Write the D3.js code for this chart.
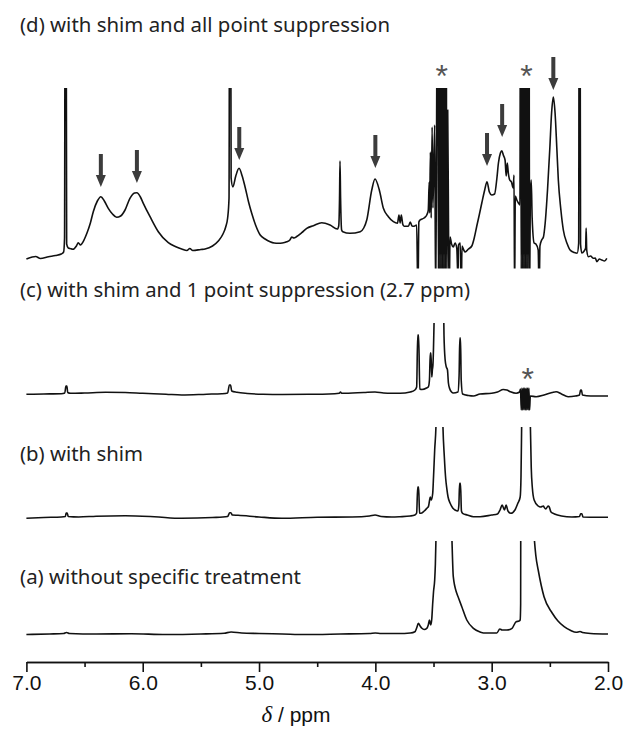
<!DOCTYPE html>
<html>
<head>
<meta charset="utf-8">
<script src="https://cdn.jsdelivr.net/npm/d3@7"></script>
<style>
  body { margin: 0; background: #fff; }
  svg { display: block; }
</style>
</head>
<body>
<div id="chart"></div>
<script>
// Spectra: [ppm, intensity] (intensity in arbitrary units above baseline)
var traceD = [
  [7.00,-1],[6.95,1],[6.92,1.5],[6.88,-0.5],[6.81,1.3],[6.75,2.5],[6.70,4],[6.68,6],[6.672,20],[6.666,400],[6.660,400],[6.654,14],
  [6.64,10],[6.625,9.5],[6.60,8.7],[6.57,12],[6.554,15.3],[6.535,13],[6.525,14],[6.48,24.7],[6.45,35],[6.425,46.3],[6.39,57],
  [6.36,61.3],[6.33,57],[6.296,49.7],[6.26,44],[6.224,40.7],[6.19,42],[6.152,48],[6.11,59.7],[6.07,65],[6.05,65.3],[6.02,61],
  [5.995,54.7],[5.937,41.3],[5.866,26.3],[5.78,15.3],[5.72,11.5],[5.665,9],[5.62,7.5],[5.595,9.5],[5.57,7.5],[5.50,8.5],[5.464,9],
  [5.40,12],[5.35,17],[5.31,24],[5.286,31.3],[5.27,40],[5.258,60],[5.252,400],[5.246,400],[5.24,80],[5.225,71],[5.20,82],
  [5.172,89.7],[5.145,82],[5.12,71],[5.09,56],[5.063,44.7],[5.03,33],[4.99,23],[4.948,19],[4.905,16.3],[4.87,15],[4.834,14.7],
  [4.80,15],[4.762,16.3],[4.735,18],[4.719,21],[4.70,20],[4.676,21.5],[4.633,25.3],[4.59,29.7],[4.533,32.3],[4.461,35.3],
  [4.39,33],[4.327,29],[4.315,32],[4.308,60],[4.304,97],[4.299,60],[4.29,28],[4.28,26.3],[4.218,24.7],[4.13,26.3],[4.10,30],
  [4.074,38],[4.031,68],[4.003,79],[3.966,68],[3.931,49.7],[3.888,41.3],[3.845,36.3],[3.81,34.7],[3.797,43],[3.787,35],
  [3.777,43],[3.765,34],[3.753,31.7],[3.716,31.7],[3.70,36],[3.685,32],[3.667,31.7],[3.645,33],[3.634,-40],[3.626,36],
  [3.616,38],[3.581,40],[3.558,43],[3.545,48],[3.537,76],[3.533,45],[3.527,106],[3.52,40],[3.512,131],[3.505,50],[3.49,133],
  [3.482,-40],[3.476,60],
  [3.464,400],[3.458,-40],[3.452,400],[3.446,-40],[3.440,400],[3.434,-40],[3.428,400],[3.422,-40],[3.416,400],[3.410,-40],
  [3.404,400],[3.398,-40],[3.392,400],[3.386,-40],
  [3.378,148],[3.371,30],[3.365,-40],[3.358,21],[3.345,14],[3.33,11],[3.315,15],[3.30,10],[3.29,-20],[3.285,13],[3.27,15],
  [3.262,-40],[3.255,12],[3.24,8],[3.228,6],[3.20,9],[3.171,12],[3.15,20],[3.128,32],[3.105,44],[3.085,55],[3.06,68],
  [3.04,76.3],[3.02,66],[3.00,63],[2.975,64],[2.955,80],[2.942,95],[2.925,105],[2.913,107.3],[2.90,103],[2.885,98],[2.875,82],
  [2.866,95],[2.857,85],[2.845,78],[2.83,76],[2.815,70],[2.808,83],[2.803,-40],[2.797,62],[2.784,58],[2.77,55],[2.757,53],
  [2.752,400],[2.746,-40],[2.740,400],[2.734,-40],[2.728,400],[2.722,-40],[2.716,400],[2.710,-40],[2.704,400],[2.698,-40],
  [2.692,400],[2.686,-40],[2.680,400],[2.674,-40],
  [2.668,60],[2.66,78],[2.652,40],[2.635,15],[2.62,14],[2.60,8],[2.592,-40],[2.585,12],[2.57,18],[2.555,21],[2.54,35],
  [2.52,68],[2.50,110],[2.485,145],[2.47,161],[2.455,145],[2.44,110],[2.427,78],[2.405,48],[2.384,28],[2.35,14],[2.326,8],
  [2.29,5.5],[2.265,4.7],[2.252,15],[2.247,400],[2.242,400],[2.236,14],[2.225,5],[2.205,7],[2.192,10],[2.188,30],[2.183,8],
  [2.168,1.3],[2.15,2],[2.125,-0.3],[2.11,0],[2.096,-3.7],[2.075,-1],[2.053,-2],[2.03,-3],[2.01,-0.3]
];

var traceC = [
  [7.00,0.7],[6.85,1],[6.70,1.3],[6.67,2],[6.66,9],[6.652,9],[6.645,2.5],[6.62,1.7],[6.50,2],[6.32,2.7],[6.15,2.5],[6.0,1.7],
  [5.8,0.8],[5.665,0],[5.45,0.8],[5.32,1.3],[5.27,2],[5.255,10],[5.245,10],[5.235,4],[5.19,2.7],[5.10,1.5],[4.966,0.7],
  [4.8,0.5],[4.576,0.7],[4.40,1],[4.31,1.7],[4.30,3],[4.29,1.7],[4.10,2.5],[4.003,3],[3.93,2],[3.86,1.7],[3.788,1.7],
  [3.70,3],[3.66,5],[3.645,8],[3.636,60],[3.628,60],[3.618,6],[3.60,5.5],[3.56,7],[3.544,8.3],[3.535,15],[3.528,42],
  [3.522,42],[3.515,18],[3.51,25],[3.505,30],[3.495,75],[3.485,150],[3.45,400],[3.42,150],[3.41,60],[3.40,35],[3.39,28],
  [3.38,25],[3.372,12],[3.36,6],[3.345,3],[3.33,2],[3.29,3],[3.28,20],[3.274,57],[3.268,57],[3.262,15],[3.25,1],[3.20,-0.5],
  [3.157,-1],[3.10,1],[3.0,1.7],[2.95,3],[2.90,5.5],[2.87,5],[2.84,3.3],[2.79,1.7],[2.76,3],[2.752,6],
  [2.746,-15],[2.740,7],[2.734,-15],[2.728,7],[2.722,-15],[2.716,7],[2.710,-15],[2.704,7],[2.698,-15],[2.692,7],[2.686,-15],
  [2.680,7],[2.674,-15],
  [2.668,-1],[2.618,-1.7],[2.55,0],[2.48,2.5],[2.446,3.3],[2.40,1],[2.343,-1.7],[2.28,-1],[2.245,0],[2.236,5],[2.228,5],
  [2.22,0],[2.15,-1],[2.0,-1]
];

var traceB = [
  [7.0,-1.3],[6.85,-0.5],[6.70,0],[6.665,0.5],[6.658,4],[6.65,4],[6.64,0.5],[6.55,0],[6.40,0.8],[6.15,1.3],[5.90,0.3],
  [5.665,-1.3],[5.40,-0.5],[5.27,0.5],[5.252,4.3],[5.242,4.3],[5.23,2],[5.18,1.7],[5.0,0],[4.805,-1.3],[4.5,-0.3],[4.2,0],
  [4.05,1],[4.003,2],[3.95,0.5],[3.86,0],[3.788,0.3],[3.70,1],[3.66,2],[3.645,4],[3.636,30],[3.628,30],[3.62,4],[3.61,3.7],
  [3.58,6],[3.555,9],[3.544,10.3],[3.535,16],[3.528,20],[3.52,17],[3.507,23.7],[3.50,40],[3.49,67],[3.478,95],[3.45,400],
  [3.42,95],[3.407,60],[3.395,38],[3.386,28.7],[3.375,20],[3.357,13.7],[3.335,9],[3.315,7],[3.29,6],[3.282,12],[3.276,33.7],
  [3.268,33.7],[3.26,6],[3.25,3.7],[3.21,2],[3.157,0.3],[3.10,0.3],[3.0,2],[2.95,3],[2.928,7],[2.91,12],[2.89,7],[2.876,12],
  [2.86,6],[2.835,3.7],[2.80,7],[2.775,13.7],[2.755,20],[2.748,40],[2.742,95],[2.70,400],[2.668,95],[2.66,50],[2.65,28.7],
  [2.635,17],[2.60,11],[2.58,10],[2.555,11],[2.55,10],[2.535,8],[2.515,11],[2.505,10],[2.49,5],[2.46,3],[2.40,1],[2.31,0],
  [2.245,0.5],[2.235,3.3],[2.225,3.3],[2.215,0],[2.1,-0.3],[2.0,-0.3]
];

var traceA = [
  [7.0,-0.5],[6.80,0],[6.68,0.5],[6.655,1.5],[6.63,0.5],[6.4,0],[6.1,0.3],[5.8,-0.5],[5.5,0],[5.3,0.8],[5.24,2],[5.15,1],
  [5.0,0.5],[4.8,0],[4.6,-0.5],[4.3,0],[4.05,0.5],[4.0,1],[3.95,0.5],[3.80,0.5],[3.70,1],[3.66,2.3],[3.645,6],[3.63,10.7],
  [3.615,8],[3.60,5.7],[3.58,4.5],[3.558,5.7],[3.545,9],[3.535,14],[3.524,9],[3.515,15],[3.507,30.7],[3.50,42.3],[3.49,54],
  [3.484,70],[3.478,100],[3.46,300],[3.40,400],[3.343,100],[3.33,57.3],[3.30,40.7],[3.285,36],[3.257,27.3],[3.214,14],
  [3.157,5.7],[3.10,2],[3.07,1],[2.99,1],[2.956,1],[2.93,5],[2.91,4],[2.87,4],[2.825,5.7],[2.79,12.3],[2.765,13],[2.755,14],
  [2.751,30],[2.748,300],[2.70,400],[2.636,100],[2.62,78],[2.60,64],[2.55,37.3],[2.48,21],[2.43,13],[2.377,7.3],[2.32,3.5],
  [2.274,1.7],[2.24,2.5],[2.22,1.5],[2.15,0.5],[2.0,0]
];

// annotations on trace (d)
var arrowPpm = [6.36, 6.05, 5.17, 4.00, 3.04, 2.91, 2.47];
var arrowTip = [71, 75, 98, 90, 92, 121, 168];
var starPpmD = [3.43, 2.70];
var starPpmC = [2.69];

var labels = [
  "(d) with shim and all point suppression",
  "(c) with shim and 1 point suppression (2.7 ppm)",
  "(b) with shim",
  "(a) without specific treatment"
];
var majorTicks = [7.0, 6.0, 5.0, 4.0, 3.0, 2.0];
var minorTicks = [6.5, 5.5, 4.5, 3.5, 2.5];

// ---- layout ----
var width = 626, height = 731;

var svg = d3.select("#chart").append("svg")
  .attr("width", width)
  .attr("height", height);

var x = d3.scaleLinear().domain([7, 2]).range([26.4, 608]);

// each trace: baseline (px), clip window
var panels = [
  {data: traceD, base: 258, top: 88,  bottom: 268.5, label: labels[0], ly: 32,  lw: 370},
  {data: traceC, base: 395, top: 323, bottom: 420,   label: labels[1], ly: 297, lw: 450},
  {data: traceB, base: 517, top: 427, bottom: 540,   label: labels[2], ly: 461, lw: 123},
  {data: traceA, base: 634, top: 541, bottom: 655,   label: labels[3], ly: 584, lw: 281}
];

var defs = svg.append("defs");

panels.forEach(function(p, i) {
  p.y = d3.scaleLinear().domain([0, 100]).range([p.base, p.base - 100]);

  defs.append("clipPath").attr("id", "clip" + i)
    .append("rect")
    .attr("x", 0).attr("y", p.top)
    .attr("width", width).attr("height", p.bottom - p.top);

  var line = d3.line()
    .x(function(d) { return x(d[0]); })
    .y(function(d) { return p.y(d[1]); })
    .curve(d3.curveMonotoneX);

  svg.append("path")
    .datum(p.data)
    .attr("clip-path", "url(#clip" + i + ")")
    .attr("d", line)
    .attr("fill", "none")
    .attr("stroke", "#111")
    .attr("stroke-width", 1.6)
    .attr("stroke-linejoin", "round");

  svg.append("text")
    .attr("x", 20).attr("y", p.ly)
    .attr("textLength", p.lw)
    .attr("lengthAdjust", "spacingAndGlyphs")
    .style("font-family", "'Noto Sans', 'Open Sans', sans-serif")
    .style("font-size", "19px")
    .attr("fill", "#222")
    .text(p.label);
});

// arrows on (d)
var yD = panels[0].y;
svg.selectAll(".arrow")
  .data(arrowPpm)
  .enter().append("path")
  .attr("class", "arrow")
  .attr("transform", function(d, i) { return "translate(" + x(d) + "," + yD(arrowTip[i]) + ")"; })
  .attr("d", "M0,0 L-5,-12 L-2,-12 L-2,-33 L2,-33 L2,-12 L5,-12 Z")
  .attr("fill", "#3c3c3c");

// asterisks
function stars(list, yc) {
  svg.selectAll(null)
    .data(list)
    .enter().append("text")
    .attr("x", function(d) { return x(d); })
    .attr("y", yc + 19)
    .attr("text-anchor", "middle")
    .style("font-family", "'Liberation Sans', Arial, sans-serif")
    .style("font-size", "32px")
    .attr("fill", "#555")
    .text("*");
}
stars(starPpmD, 68);
stars(starPpmC, 371);

// axis
var axisY = 662;
var gMajor = svg.append("g")
  .attr("transform", "translate(0," + axisY + ")")
  .call(d3.axisBottom(x).tickValues(majorTicks).tickSize(10).tickSizeOuter(0).tickPadding(3)
    .tickFormat(d3.format(".1f")));
var gMinor = svg.append("g")
  .attr("transform", "translate(0," + axisY + ")")
  .call(d3.axisBottom(x).tickValues(minorTicks).tickSize(5).tickSizeOuter(0).tickFormat(""));

svg.selectAll(".domain").attr("stroke", "#111").attr("stroke-width", 1.6);
svg.selectAll(".tick line").attr("stroke", "#111").attr("stroke-width", 1.6);
gMajor.selectAll(".tick text")
  .style("font-family", "'Liberation Sans', Arial, sans-serif")
  .style("font-size", "21px")
  .attr("fill", "#111");

var title = svg.append("text")
  .attr("x", 296).attr("y", 722)
  .attr("text-anchor", "middle")
  .style("font-family", "'Liberation Sans', Arial, sans-serif")
  .style("font-size", "21px")
  .attr("fill", "#111");
title.append("tspan")
  .style("font-family", "'Liberation Serif', 'Times New Roman', serif")
  .style("font-style", "italic")
  .style("font-size", "23px")
  .text("δ");
title.append("tspan").text(" / ppm");
</script>
</body>
</html>
